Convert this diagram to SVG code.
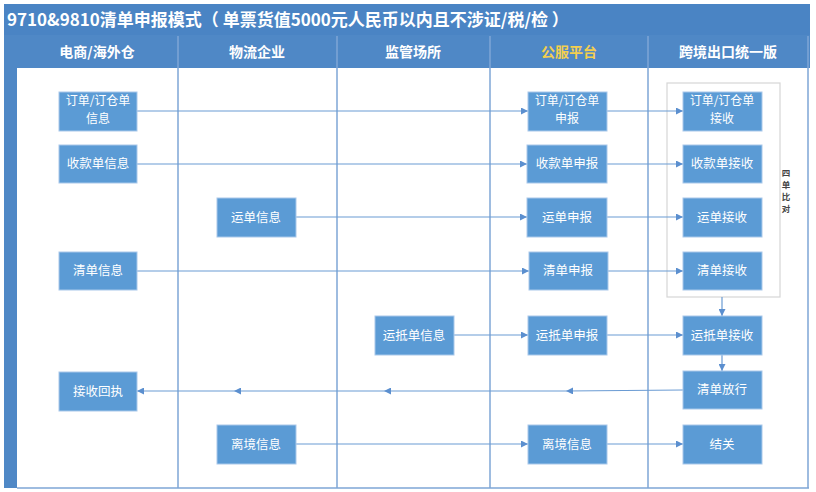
<svg xmlns="http://www.w3.org/2000/svg" width="816" height="492" viewBox="0 0 816 492">
<defs>
<style>
.node rect{fill:#5b9bd5;stroke:#a9c8ea;stroke-width:1}
.node text{fill:#ffffff;font-family:"Noto Sans CJK SC","Noto Sans",sans-serif;font-size:12.5px;text-anchor:middle}
.node text.two{font-size:12px}
.hdr{fill:#ffffff;font-family:"Noto Sans CJK SC","Noto Sans",sans-serif;font-size:14px;font-weight:bold;text-anchor:middle}
.grid{stroke:#7ea6d6;stroke-width:1.5;fill:none}
.conn line,.conn path{stroke:#6a9bd3;stroke-width:1.2;fill:none}
</style>
<marker id="ah" viewBox="0 0 10 10" refX="10" refY="5" markerWidth="7" markerHeight="7" orient="auto" markerUnits="userSpaceOnUse">
<path d="M0,0 L10,5 L0,10 z" fill="#5b8fcf"/>
</marker>
</defs>
<rect width="816" height="492" fill="#ffffff"/>
<g id="frame">
<rect x="4" y="4" width="806" height="31" fill="#4a84c4"/>
<text x="7" y="26" style="fill:#ffffff;font-family:'Noto Sans CJK SC','Noto Sans',sans-serif;font-size:17px;font-weight:bold" xml:space="preserve">9710&amp;9810清单申报模式（ 单票货值5000元人民币以内且不涉证/税/检 ）</text>
<rect x="4" y="35" width="806" height="33" fill="#4f88c6"/>
<rect x="4" y="35" width="13" height="453" fill="#4f88c6"/>
<line class="grid" x1="178" y1="36" x2="178" y2="488"/>
<line class="grid" x1="337" y1="36" x2="337" y2="488"/>
<line class="grid" x1="490" y1="36" x2="490" y2="488"/>
<line class="grid" x1="648" y1="36" x2="648" y2="488"/>
<line class="grid" x1="808" y1="36" x2="808" y2="488"/>
<line class="grid" x1="17" y1="488" x2="809" y2="488"/>
<text class="hdr" x="97" y="57">电商/海外仓</text>
<text class="hdr" x="257" y="57">物流企业</text>
<text class="hdr" x="413" y="57">监管场所</text>
<text class="hdr" x="569" y="57" style="fill:#f3cf4f">公服平台</text>
<text class="hdr" x="728" y="57">跨境出口统一版</text>
</g>
<g id="compare-box">
<rect x="667" y="83" width="113" height="214" fill="none" stroke="#d6d6d6" stroke-width="1.2"/>
<text style="fill:#444;font-family:'Noto Sans CJK SC',sans-serif;font-size:8.5px;font-weight:bold" text-anchor="middle"><tspan x="786" y="176">四</tspan><tspan x="786" y="188">单</tspan><tspan x="786" y="200">比</tspan><tspan x="786" y="212">对</tspan></text>
</g>
<g class="conn" id="connectors">
<line x1="137" y1="111" x2="528" y2="111" marker-end="url(#ah)"/>
<line x1="607" y1="111" x2="683" y2="111" marker-end="url(#ah)"/>
<line x1="137" y1="164" x2="527" y2="164" marker-end="url(#ah)"/>
<line x1="607" y1="164" x2="683" y2="164" marker-end="url(#ah)"/>
<line x1="296" y1="217" x2="527" y2="217" marker-end="url(#ah)"/>
<line x1="607" y1="217" x2="683" y2="217" marker-end="url(#ah)"/>
<line x1="137" y1="271" x2="529" y2="271" marker-end="url(#ah)"/>
<line x1="608" y1="271" x2="683" y2="271" marker-end="url(#ah)"/>
<line x1="454" y1="335" x2="528" y2="335" marker-end="url(#ah)"/>
<line x1="607" y1="335" x2="683" y2="335" marker-end="url(#ah)"/>
<line x1="722" y1="297" x2="722" y2="316" marker-end="url(#ah)"/>
<line x1="722" y1="355" x2="722" y2="371" marker-end="url(#ah)"/>
<line x1="683" y1="390" x2="566" y2="391" marker-end="url(#ah)"/>
<line x1="566" y1="391" x2="384" y2="391" marker-end="url(#ah)"/>
<line x1="384" y1="391" x2="234" y2="391" marker-end="url(#ah)"/>
<line x1="234" y1="391" x2="137" y2="391" marker-end="url(#ah)"/>
<line x1="296" y1="444" x2="528" y2="444" marker-end="url(#ah)"/>
<line x1="607" y1="444" x2="683" y2="444" marker-end="url(#ah)"/>
</g>
<g id="n1" class="node"><rect x="59" y="92" width="78" height="39"/><text class="two" x="98" y="105">订单/订仓单</text><text class="two" x="98" y="123">信息</text></g>
<g id="n2" class="node"><rect x="59" y="145" width="78" height="38"/><text x="98" y="168">收款单信息</text></g>
<g id="n3" class="node"><rect x="59" y="252" width="78" height="38"/><text x="98" y="275">清单信息</text></g>
<g id="n4" class="node"><rect x="59" y="372" width="78" height="39"/><text x="98" y="396">接收回执</text></g>
<g id="n5" class="node"><rect x="217" y="198" width="79" height="39"/><text x="256" y="222">运单信息</text></g>
<g id="n6" class="node"><rect x="217" y="425" width="79" height="39"/><text x="256" y="449">离境信息</text></g>
<g id="n7" class="node"><rect x="375" y="316" width="79" height="39"/><text x="414" y="340">运抵单信息</text></g>
<g id="n8" class="node"><rect x="528" y="92" width="79" height="39"/><text class="two" x="567" y="105">订单/订仓单</text><text class="two" x="567" y="123">申报</text></g>
<g id="n9" class="node"><rect x="527" y="145" width="80" height="38"/><text x="567" y="168">收款单申报</text></g>
<g id="n10" class="node"><rect x="527" y="198" width="80" height="39"/><text x="567" y="222">运单申报</text></g>
<g id="n11" class="node"><rect x="529" y="252" width="79" height="38"/><text x="568" y="275">清单申报</text></g>
<g id="n12" class="node"><rect x="528" y="316" width="79" height="39"/><text x="567" y="340">运抵单申报</text></g>
<g id="n13" class="node"><rect x="528" y="425" width="79" height="39"/><text x="567" y="449">离境信息</text></g>
<g id="n14" class="node"><rect x="683" y="92" width="79" height="39"/><text class="two" x="722" y="105">订单/订仓单</text><text class="two" x="722" y="123">接收</text></g>
<g id="n15" class="node"><rect x="683" y="145" width="79" height="38"/><text x="722" y="168">收款单接收</text></g>
<g id="n16" class="node"><rect x="683" y="198" width="79" height="39"/><text x="722" y="222">运单接收</text></g>
<g id="n17" class="node"><rect x="683" y="252" width="79" height="38"/><text x="722" y="275">清单接收</text></g>
<g id="n18" class="node"><rect x="683" y="316" width="79" height="39"/><text x="722" y="340">运抵单接收</text></g>
<g id="n19" class="node"><rect x="683" y="371" width="79" height="38"/><text x="722" y="394">清单放行</text></g>
<g id="n20" class="node"><rect x="683" y="425" width="79" height="39"/><text x="722" y="449">结关</text></g>
</svg>
